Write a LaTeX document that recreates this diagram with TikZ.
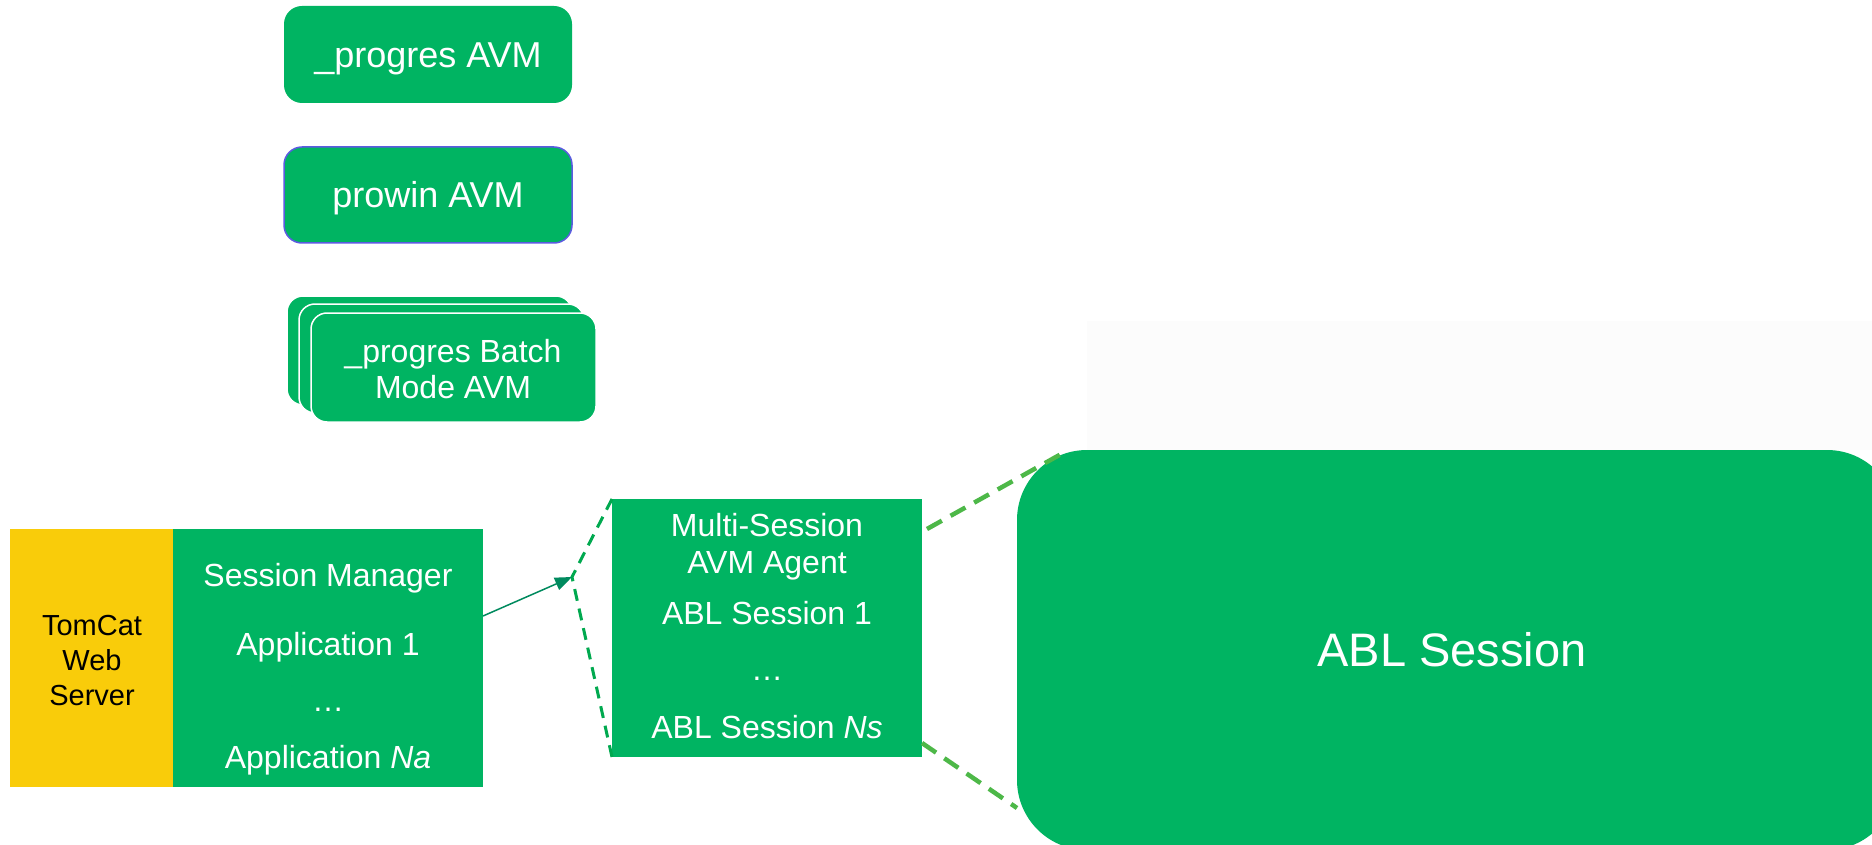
\documentclass[tikz,border=0pt]{standalone}
\usepackage{fontspec}
\setmainfont{Liberation Sans}
\usetikzlibrary{arrows.meta}
\definecolor{avmgreen}{HTML}{00B462}
\definecolor{tomyellow}{HTML}{F9CC0A}
\definecolor{arrowteal}{HTML}{008A5E}
\definecolor{dashgreen}{HTML}{00A94F}
\definecolor{linkgreen}{HTML}{4DB848}
\definecolor{prowinedge}{HTML}{5B5BE0}
\definecolor{haze}{HTML}{FCFCFC}

\begin{document}
\begin{tikzpicture}[x=1pt,y=-1pt,
  gbox/.style={fill=avmgreen, draw=none, inner sep=0pt, outer sep=0pt},
  avmbox/.style={gbox, rounded corners=18pt, minimum width=288pt, minimum height=97pt},
  batchbox/.style={gbox, draw=white, line width=1.5pt, rounded corners=16pt, minimum width=285pt, minimum height=109pt},
  wtext/.style={text=white, inner sep=0pt, anchor=base, font=\fontsize{32}{36}\selectfont},
  bigtext/.style={wtext, font=\fontsize{36}{40}\selectfont},
  btext/.style={text=black, inner sep=0pt, anchor=base, font=\fontsize{29}{33}\selectfont},
  fanout/.style={dashgreen, line width=3pt, dash pattern=on 12pt off 8pt},
  zoomlink/.style={linkgreen, line width=4.5pt, dash pattern=on 17pt off 10pt}]

\fill[white] (0,0) rectangle (1872,845);
\useasboundingbox (0,0) rectangle (1872,845);
\fill[haze] (1087,321) rectangle (1872,450);

% standalone AVM kinds
\node[avmbox] (progres) at (428,54.5) {};
\node[bigtext] (progrestxt) at (428,68) {\_progres AVM};
\node[avmbox, draw=prowinedge, line width=1.5pt, minimum height=96pt] (prowin) at (428,195) {};
\node[bigtext] (prowintxt) at (428,208) {prowin AVM};

% stack of batch-mode clients
\node[batchbox] (batch3) at (429.5,350.5) {};
\node[batchbox] (batch2) at (441.5,358.5) {};
\node[batchbox] (batch1) at (453.5,367.5) {};
\node[wtext] (batchtxta) at (453,362) {\_progres Batch};
\node[wtext] (batchtxtb) at (453,398) {Mode AVM};

% web server with the session manager
\node[fill=tomyellow, inner sep=0pt, minimum width=163pt, minimum height=258pt] (tomcat) at (91.5,658) {};
\node[btext] (tc1) at (92,635) {TomCat};
\node[btext] (tc2) at (92,670) {Web};
\node[btext] (tc3) at (92,705) {Server};

\node[gbox, minimum width=310pt, minimum height=258pt] (apps) at (328,658) {};
\node[wtext] (sm) at (328,586) {Session Manager};
\node[wtext] (app1) at (328,655) {Application 1};
\node[wtext] (appdots) at (328,711) {…};
\node[wtext] (appn) at (328,768) {Application \textit{Na}};

% multi-session agent
\node[gbox, minimum width=310pt, minimum height=258pt] (multi) at (767,628) {};
\node[wtext] (ms1) at (767,536) {Multi-Session};
\node[wtext] (ms2) at (767,573) {AVM Agent};
\node[wtext] (ses1) at (767,624) {ABL Session 1};
\node[wtext] (sesdots) at (767,680) {…};
\node[wtext] (sesn) at (767,738) {ABL Session \textit{Ns}};

% enlarged single session
\node[gbox, rounded corners=70pt, minimum width=880pt, minimum height=400pt] (abl) at (1457,650) {};
\node[wtext, font=\fontsize{47}{52}\selectfont] (abltxt) at (1452,666) {ABL Session};

% connectors
\coordinate (hub) at (572,577);
\draw[fanout] (multi.north west) -- (hub) -- (multi.south west);
\draw[arrowteal, line width=1.5pt, -{Triangle[length=17pt,width=13pt]}]
  ([yshift=-87pt]apps.north east) -- (hub);
\draw[zoomlink] ([xshift=5pt,yshift=-30pt]multi.north east) -- ([xshift=46pt,yshift=-3pt]abl.north west);
\draw[zoomlink] ([yshift=14pt]multi.south east) -- ([yshift=42pt]abl.south west);

\end{tikzpicture}
\end{document}
